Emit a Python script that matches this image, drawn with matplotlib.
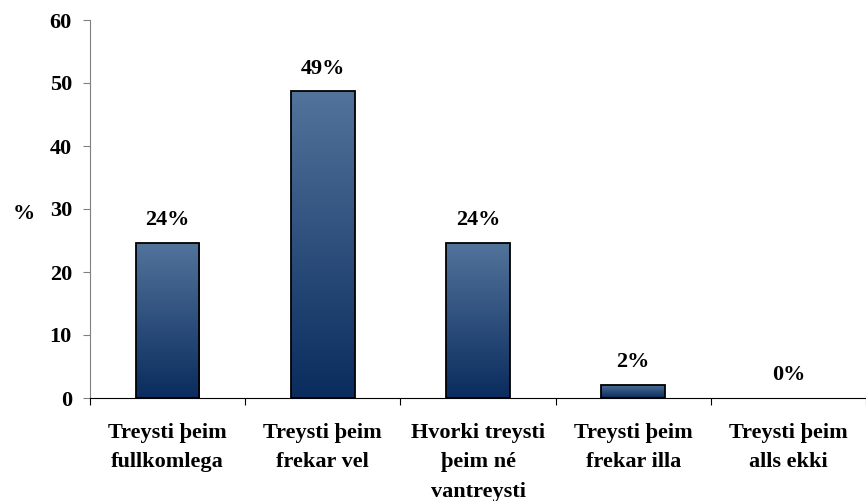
import numpy as np
import matplotlib.pyplot as plt
from matplotlib.colors import LinearSegmentedColormap

# Datos
categories = ['Treysti þeim\nfullkomlega', 'Treysti þeim\nfrekar vel',
              'Hvorki treysti\nþeim né\nvantreysti', 'Treysti þeim\nfrekar illa',
              'Treysti þeim\nalls ekki']
values = [24.6, 48.7, 24.6, 2.1, 0.0]
value_labels = ['24%', '49%', '24%', '2%', '0%']
yticks = [0, 10, 20, 30, 40, 50, 60]

plt.rcParams['font.family'] = ['Liberation Serif', 'DejaVu Serif']
plt.rcParams['font.weight'] = 'bold'
fs = 16

fig = plt.figure(figsize=(8.66, 5.01), dpi=100)
ax = fig.add_axes([90 / 866, 1 - 398 / 501, 776 / 866, 378 / 501])

cmap = LinearSegmentedColormap.from_list('grad', ['#0a2c5e', '#52739a'])
grad = np.linspace(0, 1, 256).reshape(-1, 1)

X = np.arange(len(categories))
width = 0.41
bars = ax.bar(X, values, width=width, color='none', edgecolor='black',
              linewidth=1.3, zorder=3)

# Degradado vertical en cada barra
for b in bars:
    h = b.get_height()
    if h <= 0:
        b.set_linewidth(0)
        continue
    x0 = b.get_x()
    im = ax.imshow(grad, cmap=cmap, aspect='auto', origin='lower',
                   extent=(x0, x0 + b.get_width(), 0, h), zorder=2)
    im.set_clip_path(b)

# Etiquetas de valor
for x, v, lab in zip(X, values, value_labels):
    ax.text(x, v + 2.0, lab, ha='center', va='bottom', fontsize=fs,
            fontweight='bold')

# Ejes
ax.set_xlim(-0.5, len(categories) - 0.5)
ax.set_ylim(0, 60)
ax.set_yticks(yticks)
ax.set_yticklabels([str(t) for t in yticks], fontsize=fs, fontweight='bold')
ax.set_xticks(np.arange(-0.5, len(categories), 1.0))
ax.set_xticklabels([])
ax.set_xticks(X, minor=True)
ax.set_xticklabels(categories, minor=True, fontsize=fs, fontweight='bold',
                   linespacing=1.62, va='top')
ax.tick_params(axis='x', which='minor', length=0, pad=18)
ax.tick_params(axis='x', which='major', direction='out', length=5,
               color='black')
ax.tick_params(axis='y', length=5, direction='out', color='#808080', pad=8)

ax.spines['top'].set_visible(False)
ax.spines['right'].set_visible(False)
ax.spines['left'].set_color('#808080')
ax.spines['bottom'].set_color('black')

ax.set_ylabel('%', rotation=0, fontsize=fs, fontweight='bold', va='center')
ax.yaxis.set_label_coords(-0.085, 0.487)

plt.savefig('out.png', dpi=100)
